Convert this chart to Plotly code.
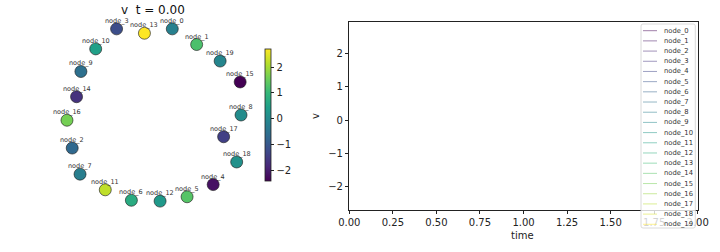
import plotly.graph_objects as go
from plotly.colors import sample_colorscale

# ---------------- data ----------------
node_names = [f"node_{i}" for i in range(20)]
# node layout positions (circle-like layout)
node_x = [0.21, 0.49, -0.94, -0.43, 0.68, 0.38, -0.26, -0.85, 1.00, -0.84,
          -0.67, -0.56, 0.07, -0.11, -0.89, 0.99, -1.00, 0.80, 0.95, 0.76]
node_y = [0.99, 0.81, -0.38, 0.99, -0.80, -0.94, -0.98, -0.68, 0.00, 0.50,
          0.76, -0.86, -0.99, 0.94, 0.21, 0.38, -0.06, -0.25, -0.54, 0.62]
# state v of each node at t = 0
node_v = [-0.20, 1.20, -0.70, -1.20, -2.20, 1.30, 0.70, -0.25, 0.05, -0.55,
          0.45, 2.20, 0.30, 2.69, -1.70, -2.44, 1.60, -1.45, 0.15, -0.10]
time_vals = [0.0]
title_text = "v  t = 0.00"

FONT = "DejaVu Sans"
W, H = 720, 252

def px_x(p):
    return p / W

def px_y(p):
    return 1 - p / H

fig = go.Figure()

# ---------------- left: network scatter ----------------
vmin, vmax = min(node_v), max(node_v)
fig.add_trace(go.Scatter(
    x=node_x, y=node_y, mode="markers",
    marker=dict(size=12, color=node_v, colorscale="Viridis", cmin=vmin, cmax=vmax,
                line=dict(width=0.8, color="rgba(30,30,30,0.8)"),
                colorbar=dict(
                    thickness=6, len=132.4 / H, lenmode="fraction",
                    x=px_x(265), xanchor="left", xpad=0,
                    y=px_y(115.5), yanchor="middle", ypad=0,
                    outlinewidth=0.8, outlinecolor="#222222",
                    tickvals=[-2, -1, 0, 1, 2], ticks="outside", ticklen=3.5,
                    tickwidth=0.8, tickcolor="#222222",
                    tickfont=dict(family=FONT, size=10, color="#222222"),
                )),
    showlegend=False, xaxis="x", yaxis="y", cliponaxis=False,
))

# ---------------- right: time series of v ----------------
line_colors = []
for i, name in enumerate(node_names):
    c = sample_colorscale("Viridis", [i / (len(node_names) - 1)])[0]
    rgb = c[c.index("(") + 1:c.index(")")]
    col = f"rgba({rgb},0.5)"
    line_colors.append(col)
    fig.add_trace(go.Scatter(
        x=time_vals, y=[node_v[i]], mode="lines", name=name,
        line=dict(color=col, width=1), showlegend=False,
        xaxis="x2", yaxis="y2",
    ))

axis_common = dict(showgrid=False, zeroline=False, showline=True, linecolor="#222222",
                   linewidth=0.8, mirror=True, ticks="outside", ticklen=3.5,
                   tickwidth=0.8, tickcolor="#222222", automargin=False,
                   tickfont=dict(family=FONT, size=10, color="#222222"))

fig.update_layout(
    width=W, height=H, margin=dict(l=0, r=0, t=0, b=0, autoexpand=False),
    paper_bgcolor="white", plot_bgcolor="white",
    xaxis=dict(domain=[px_x(40), px_x(260)], range=[-1.310, 1.218], visible=False,
               automargin=False),
    yaxis=dict(domain=[px_y(220), px_y(20)], range=[-1.207, 1.092], visible=False,
               automargin=False),
    xaxis2=dict(domain=[px_x(349.3), px_x(697.7)], range=[0, 2], anchor="y2",
                tickvals=[0, 0.25, 0.5, 0.75, 1.0, 1.25, 1.5, 1.75, 2.0],
                tickformat=".2f", **axis_common),
    yaxis2=dict(domain=[px_y(210), px_y(21.7)], range=[-2.70, 2.95], anchor="x2",
                tickvals=[-2, -1, 0, 1, 2], **axis_common),
    showlegend=False,
)

annotations = [
    dict(text=title_text, x=px_x(153), y=px_y(10.5), xref="paper", yref="paper",
         showarrow=False, font=dict(family=FONT, size=12, color="#111111"),
         xanchor="center", yanchor="middle"),
    dict(text="v", x=px_x(316), y=px_y(116), xref="paper", yref="paper",
         showarrow=False, textangle=-90, font=dict(family=FONT, size=10, color="#222222"),
         xanchor="center", yanchor="middle"),
    dict(text="time", x=px_x(522), y=px_y(235), xref="paper", yref="paper",
         showarrow=False, font=dict(family=FONT, size=10, color="#222222"),
         xanchor="center", yanchor="middle"),
]

# node labels just above each node
for name, xx, yy in zip(node_names, node_x, node_y):
    annotations.append(dict(text=name, x=xx, y=yy, xref="x", yref="y", yshift=8,
                            showarrow=False, xanchor="center", yanchor="middle",
                            font=dict(family=FONT, size=6.5, color="#333333")))

# ---------------- custom compact legend ----------------
lx0, lx1, ly0, ly1 = 641, 695.3, 24, 228
r = 2
path = (f"M {px_x(lx0 + r)},{px_y(ly0)} L {px_x(lx1 - r)},{px_y(ly0)} "
        f"Q {px_x(lx1)},{px_y(ly0)} {px_x(lx1)},{px_y(ly0 + r)} "
        f"L {px_x(lx1)},{px_y(ly1 - r)} Q {px_x(lx1)},{px_y(ly1)} {px_x(lx1 - r)},{px_y(ly1)} "
        f"L {px_x(lx0 + r)},{px_y(ly1)} Q {px_x(lx0)},{px_y(ly1)} {px_x(lx0)},{px_y(ly1 - r)} "
        f"L {px_x(lx0)},{px_y(ly0 + r)} Q {px_x(lx0)},{px_y(ly0)} {px_x(lx0 + r)},{px_y(ly0)} Z")
shapes = [dict(type="path", path=path, xref="paper", yref="paper",
               fillcolor="rgba(255,255,255,0.8)", line=dict(color="#d0d0d0", width=0.8),
               layer="above")]
row0, step = 30.7, 10.19
for i, name in enumerate(node_names):
    yy = row0 + i * step
    shapes.append(dict(type="line", xref="paper", yref="paper",
                       x0=px_x(643), x1=px_x(657), y0=px_y(yy), y1=px_y(yy),
                       line=dict(color=line_colors[i], width=1), layer="above"))
    annotations.append(dict(text=name, x=px_x(661.5), y=px_y(yy), xref="paper", yref="paper",
                            showarrow=False, xanchor="left", yanchor="middle",
                            font=dict(family=FONT, size=6.8, color="#333333")))

fig.update_layout(annotations=annotations, shapes=shapes)
fig.write_html("out.html")
